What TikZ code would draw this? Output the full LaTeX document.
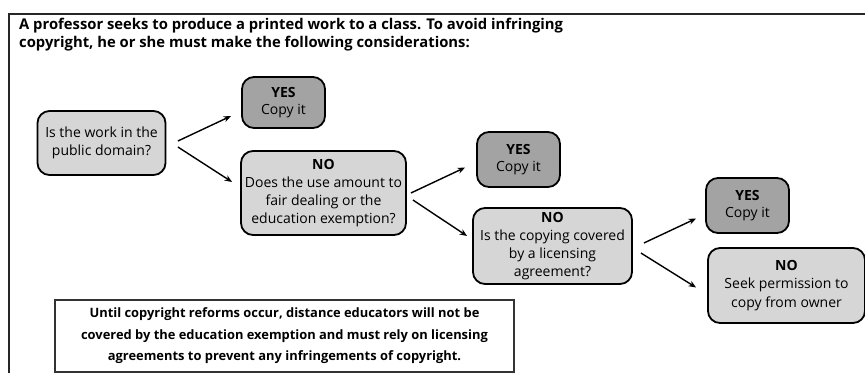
\documentclass[tikz,border=0pt]{standalone}
\usepackage{fontspec}
\setmainfont{Open Sans}
\usetikzlibrary{arrows.meta,calc}
\definecolor{lightfill}{HTML}{D6D6D6}
\definecolor{darkfill}{HTML}{A3A3A3}
\tikzset{
  qbox/.style={draw=black, line width=1.8pt, rounded corners=12pt, fill=lightfill,
    align=center, inner sep=1pt, font=\fontsize{14}{18.2}\selectfont},
  yesbox/.style={qbox, fill=darkfill, font=\fontsize{14}{17}\selectfont},
  notebox/.style={draw=black!80, line width=1.2pt, fill=white, align=center,
    font=\bfseries\fontsize{12.9}{21.5}\selectfont},
  arr/.style={line width=1.4pt, -{Stealth[length=7.5pt,width=6pt]}},
}
\begin{document}
\begin{tikzpicture}[x=1pt,y=-1pt]
\useasboundingbox (0,0) rectangle (865,373);
% frame
\draw[line width=1.6pt, black!85] (9,373) -- (9,14) -- (865,14);
% title
\node[anchor=base west, align=left, inner sep=0pt, font=\bfseries\fontsize{14.8}{17.5}\selectfont] (title) at (19,47)
  {A professor seeks to produce a printed work to a class. To avoid infringing\\copyright, he or she must make the following considerations:};
% nodes
\node[qbox, minimum width=128pt, minimum height=64pt] (q1) at (101.5,143) {Is the work in the\\public domain?};
\node[yesbox, minimum width=83pt, minimum height=51pt] (yes1) at (283.5,102.5) {\textbf{YES}\\Copy it};
\node[qbox, minimum width=165pt, minimum height=84pt] (no1) at (323.5,193) {\textbf{NO}\\Does the use amount to\\fair dealing or the\\education exemption?};
\node[yesbox, minimum width=83pt, minimum height=55pt] (yes2) at (518.5,159.5) {\textbf{YES}\\Copy it};
\node[qbox, minimum width=159pt, minimum height=76pt] (no2) at (552.5,246) {\textbf{NO}\\Is the copying covered\\by a licensing\\agreement?};
\node[yesbox, minimum width=83pt, minimum height=55pt] (yes3) at (747.5,205.5) {\textbf{YES}\\Copy it};
\node[qbox, minimum width=157pt, minimum height=75pt] (no3) at (786.5,285.5) {\textbf{NO}\\Seek permission to\\copy from owner};
\node[notebox, minimum width=459pt, minimum height=72pt] (note) at (284.5,336) {Until copyright reforms occur, distance educators will not be\\covered by the education exemption and must rely on licensing\\agreements to prevent any infringements of copyright.};
% arrows
\draw[arr] ([shift={(11.5,-2)}]q1.east) -- ([shift={(-10,13.5)}]yes1.west);
\draw[arr] ([shift={(11.5,4)}]q1.east) -- ([shift={(-8,-11)}]no1.west);
\draw[arr] ([shift={(4,0)}]no1.east) -- ([shift={(-11,8)}]yes2.west);
\draw[arr] ([shift={(6,7)}]no1.east) -- ([shift={(-5,-10)}]no2.west);
\draw[arr] ([shift={(11,-3)}]no2.east) -- ([shift={(-9,13)}]yes3.west);
\draw[arr] ([shift={(8,7)}]no2.east) -- ([shift={(-11,2)}]no3.west);
\end{tikzpicture}
\end{document}
